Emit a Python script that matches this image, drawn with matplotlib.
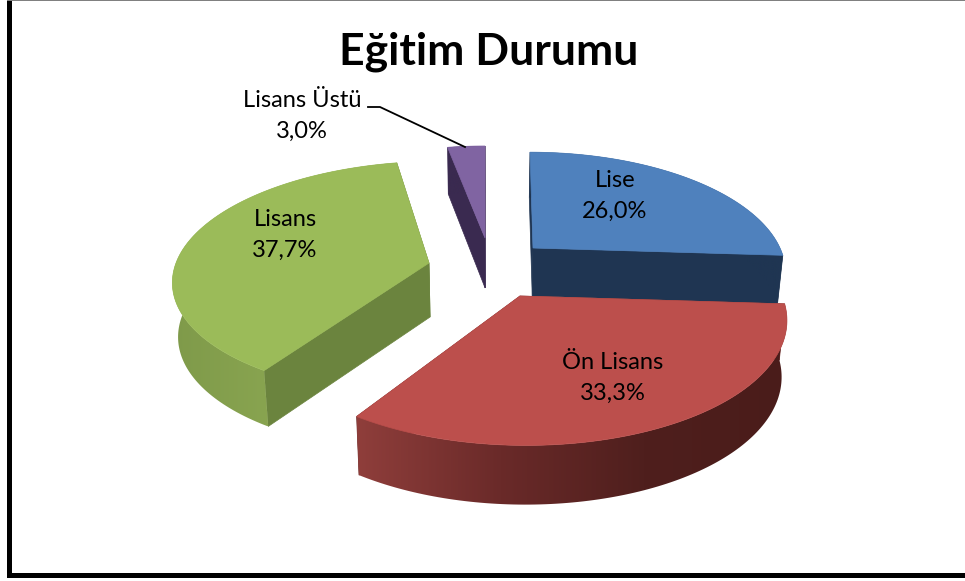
import matplotlib
matplotlib.use('Agg')
import matplotlib.pyplot as plt
from matplotlib.colors import LinearSegmentedColormap
from matplotlib.patches import Polygon, Rectangle
import numpy as np

plt.rcParams['font.family'] = ['Lato', 'DejaVu Sans']

title = 'Eğitim Durumu'
labels = ['Lise', 'Ön Lisans', 'Lisans', 'Lisans Üstü']
values = [26.0, 33.3, 37.7, 3.0]

top_colors = ['#4f81bd', '#bc4f4c', '#9bbb59', '#8064a2']
side_colors = ['#1f3552', '#6e2826', '#6b843e', '#3a2a50']
# left to right across the curved wall
arc_colors = [['#1f3552', '#1f3552'],
              ['#8f3e3b', '#6a2a29', '#4f1f1d', '#4a1c1a'],
              ['#7f9a4a', '#8aa651', '#6f8a40'],
              ['#3a2a50', '#3a2a50']]

# screen geometry per slice: apex x, apex y, rx, ry, perspective, shear, depth
geom = [(533, 248, 247, 115, 0.20, 3, 48),
        (520, 296, 262, 124, 0.17, 6, 56),
        (429, 263, 253, 115, 0.13, -10, 54),
        (485, 238, 249, 115, 0.25, 0, 50)]
draw_order = [0, 3, 2, 1]
van_x = 490


def project(g, ang):
    ax0, ay0, rx, ry, p, k, d = g
    u, v = np.sin(ang), np.cos(ang)
    s = 1 / (1 + p * v)
    return ax0 + rx * u * s - k * v, ay0 - ry * v * s, s


def drop(g, x, y, s):
    return x + (van_x - x) * 0.018, y + g[6] * (s ** 0.3)


fig = plt.figure(figsize=(9.65, 5.81), dpi=100)
ax = fig.add_axes([0, 0, 1, 1])

edges = np.cumsum([0] + values) / sum(values) * 2 * np.pi

for i in draw_order:
    g = geom[i]
    z = 2 + draw_order.index(i)
    ang = np.linspace(edges[i], edges[i + 1], 120)
    x, y, s = project(g, ang)
    bx, by = drop(g, x, y, s)
    ax0, ay0 = g[0], g[1]
    bax, bay = drop(g, ax0, ay0, 1.0)

    # radial walls
    for k in (0, -1):
        wall = [(ax0, ay0), (x[k], y[k]), (bx[k], by[k]), (bax, bay)]
        ax.add_patch(Polygon(wall, closed=True, fc=side_colors[i], ec=side_colors[i], lw=0.5, zorder=z))

    # curved wall with a sideways gradient clipped to its outline
    outline = list(zip(x, y)) + list(zip(bx[::-1], by[::-1]))
    clip = Polygon(outline, closed=True, transform=ax.transData, fc='none', ec='none')
    ax.add_patch(clip)
    cmap = LinearSegmentedColormap.from_list('wall', arc_colors[i])
    grad = np.linspace(0, 1, 256).reshape(1, -1)
    im = ax.imshow(grad, cmap=cmap, aspect='auto', zorder=z,
                   extent=(min(x.min(), bx.min()), max(x.max(), bx.max()), by.max(), y.min()))
    im.set_clip_path(clip)

    pts = [(ax0, ay0)] + list(zip(x, y))
    ax.add_patch(Polygon(pts, closed=True, fc=top_colors[i], ec=top_colors[i], lw=0.5, zorder=z))

ax.set_xlim(0, 965)
ax.set_ylim(581, 0)
ax.axis('off')

ax.text(489, 52, title, ha='center', va='center', fontsize=32, fontweight='bold', color='black', zorder=10)

label_pos = [(615, 196), (613, 378), (285, 235), (302, 116)]
for i in range(len(labels)):
    pct = f'{values[i]:.1f}'.replace('.', ',') + '%'
    ax.text(label_pos[i][0], label_pos[i][1], labels[i] + '\n' + pct, ha='center', va='center',
            fontsize=17, color='black', linespacing=1.62, zorder=10)

# leader line of the small slice
ax.plot([368, 380, 465], [107, 107, 147], color='black', lw=1.3, zorder=10)

# frame
ax.add_patch(Rectangle((7, 0), 5, 577, fc='black', ec='none', zorder=11))
ax.add_patch(Rectangle((7, 572.5), 958, 5, fc='black', ec='none', zorder=11))
ax.add_patch(Rectangle((7, 0), 958, 1.2, fc='#808080', ec='none', zorder=11))

fig.savefig('out.png', dpi=100)
